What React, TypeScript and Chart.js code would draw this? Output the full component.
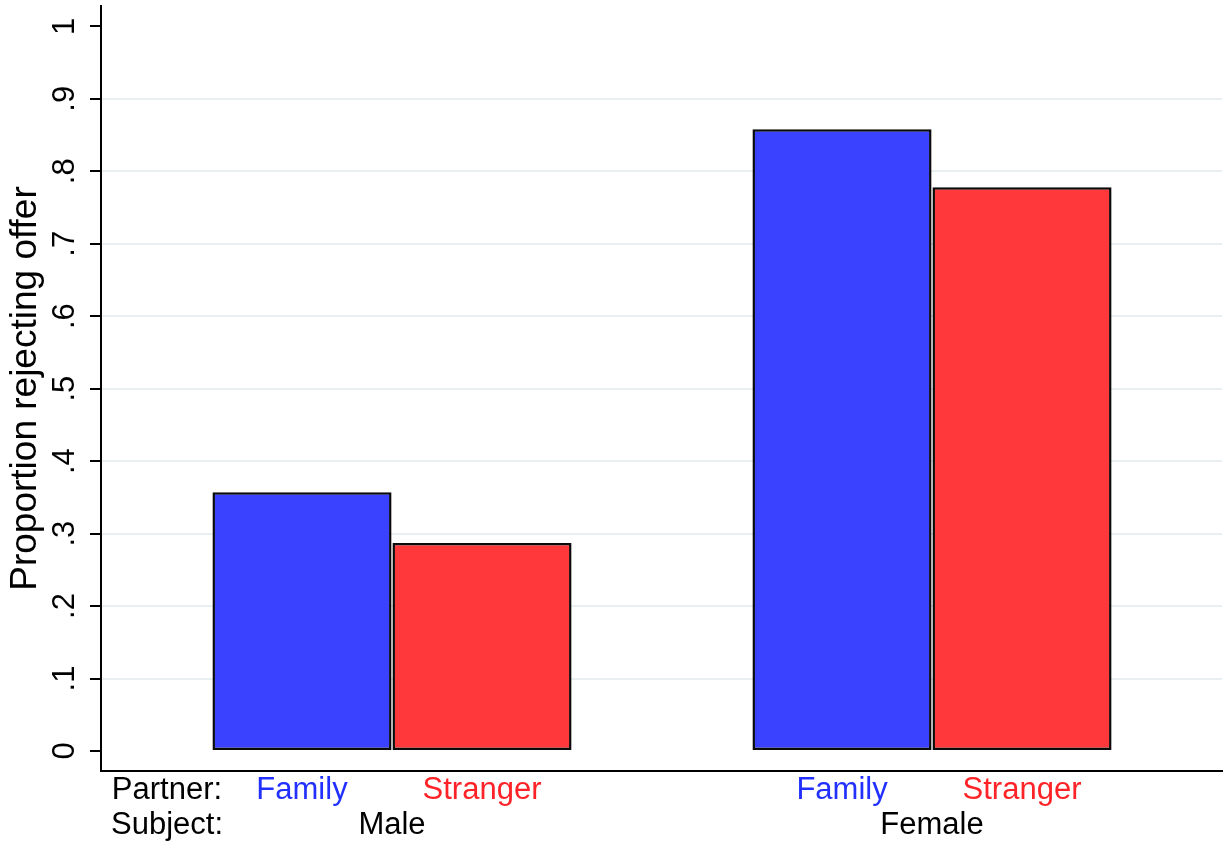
import React, { useEffect, useRef } from 'react';
import { Chart, registerables } from 'chart.js';

Chart.register(...registerables);

// ---- data ----
const barPositions = [0, 1, 3, 4];
const barPartner = ['Family', 'Stranger', 'Family', 'Stranger'];
const rejectValues = [0.357, 0.287, 0.858, 0.778];

const yTickValues = [0, 0.1, 0.2, 0.3, 0.4, 0.5, 0.6, 0.7, 0.8, 0.9, 1];
const yTickLabels = ['0', '.1', '.2', '.3', '.4', '.5', '.6', '.7', '.8', '.9', '1'];

const partnerTickValues = [-0.75, 0, 1, 3, 4];
const partnerTickLabels = ['Partner:', 'Family', 'Stranger', 'Family', 'Stranger'];

const subjectTickValues = [-0.75, 0.5, 3.5];
const subjectTickLabels = ['Subject:', 'Male', 'Female'];

const yTitle = 'Proportion rejecting offer';

// ---- styles ----
const FONT = '"Liberation Sans", Arial, Helvetica, sans-serif';
const barColor: Record<string, string> = { Family: '#3a42ff', Stranger: '#ff383c' };
const textColor: Record<string, string> = { Family: '#2230ff', Stranger: '#ff2226' };
const X_MIN = -1.1167;
const X_MAX = 5.111;

const zeroPad = (s: any) => {
  s.paddingTop = 0;
  s.paddingBottom = 0;
  s.paddingLeft = 0;
  s.paddingRight = 0;
};

export default function App() {
  const ref = useRef<HTMLCanvasElement | null>(null);

  useEffect(() => {
    if (!ref.current) return;
    const chart = new Chart(ref.current, {
      type: 'bar',
      data: {
        datasets: [
          {
            data: barPositions.map((x, i) => ({ x, y: rejectValues[i] })),
            backgroundColor: barPartner.map((p) => barColor[p]),
            borderColor: '#0a0a0a',
            borderWidth: 2.5,
            borderSkipped: false,
            categoryPercentage: 1,
            barPercentage: 0.995,
            xAxisID: 'x',
            yAxisID: 'y',
          },
        ],
      },
      options: {
        responsive: false,
        animation: false,
        events: [],
        layout: { padding: { top: 6, right: 3, left: 0, bottom: 0 } },
        plugins: { legend: { display: false }, tooltip: { enabled: false }, title: { display: false } },
        scales: {
          x: {
            type: 'linear',
            position: 'bottom',
            weight: 0,
            min: X_MIN,
            max: X_MAX,
            offset: false,
            grid: { display: false, drawTicks: false },
            border: { display: true, color: '#000', width: 2 },
            ticks: { display: false },
            afterBuildTicks: (s: any) => { s.ticks = []; },
            afterFit: (s: any) => { s.height = 0; zeroPad(s); },
          },
          x1: {
            type: 'linear',
            position: 'bottom',
            weight: 1,
            min: X_MIN,
            max: X_MAX,
            offset: false,
            grid: { display: false, drawTicks: false },
            border: { display: false },
            afterBuildTicks: (s: any) => { s.ticks = partnerTickValues.map((v) => ({ value: v })); },
            afterFit: (s: any) => { s.height = 36; zeroPad(s); },
            ticks: {
              autoSkip: false,
              maxRotation: 0,
              minRotation: 0,
              padding: 1,
              font: { family: FONT, size: 31 },
              color: (ctx: any) => {
                const i = partnerTickValues.indexOf(ctx.tick.value);
                return textColor[partnerTickLabels[i]] || '#000';
              },
              callback: (v: any) => {
                const i = partnerTickValues.indexOf(Number(v));
                return i >= 0 ? partnerTickLabels[i] : '';
              },
            },
          },
          x2: {
            type: 'linear',
            position: 'bottom',
            weight: 2,
            min: X_MIN,
            max: X_MAX,
            offset: false,
            grid: { display: false, drawTicks: false },
            border: { display: false },
            afterBuildTicks: (s: any) => { s.ticks = subjectTickValues.map((v) => ({ value: v })); },
            afterFit: (s: any) => { s.height = 39; zeroPad(s); },
            ticks: {
              autoSkip: false,
              maxRotation: 0,
              minRotation: 0,
              padding: 0,
              color: '#000',
              font: { family: FONT, size: 31 },
              callback: (v: any) => {
                const i = subjectTickValues.indexOf(Number(v));
                return i >= 0 ? subjectTickLabels[i] : '';
              },
            },
          },
          y: {
            type: 'linear',
            position: 'left',
            min: -0.0276,
            max: 1.028,
            afterBuildTicks: (s: any) => { s.ticks = yTickValues.map((v) => ({ value: v })); },
            afterFit: (s: any) => { s.width = 101; zeroPad(s); },
            grid: {
              color: (ctx: any) => (ctx.tick && (ctx.tick.value === 0 || ctx.tick.value === 1) ? 'rgba(0,0,0,0)' : '#e8f0f2'),
              lineWidth: 2,
              tickColor: '#000',
              tickWidth: 2,
              tickLength: 11,
              drawOnChartArea: true,
            },
            border: { display: true, color: '#000', width: 2 },
            ticks: {
              autoSkip: false,
              minRotation: 90,
              maxRotation: 90,
              crossAlign: 'center',
              padding: 12,
              color: '#000',
              font: { family: FONT, size: 31 },
              callback: (v: any) => {
                const i = yTickValues.findIndex((t) => Math.abs(t - Number(v)) < 1e-9);
                return i >= 0 ? yTickLabels[i] : '';
              },
            },
            title: {
              display: true,
              text: yTitle,
              color: '#000',
              font: { family: FONT, size: 37 },
              padding: { top: 4, bottom: 0 },
            },
          },
        },
      } as any,
    });
    return () => chart.destroy();
  }, []);

  return (
    <div style={{ position: 'fixed', left: 0, top: 0, width: 1225, height: 846, background: '#fff' }}>
      <canvas ref={ref} width={1225} height={846} />
    </div>
  );
}
